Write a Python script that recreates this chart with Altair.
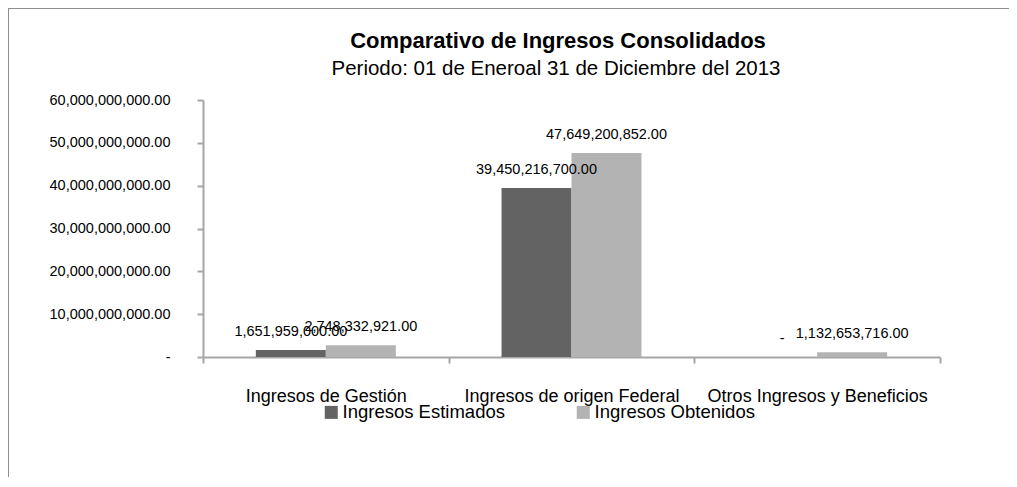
import altair as alt
import pandas as pd

categories = ["Ingresos de Gestión", "Ingresos de origen Federal", "Otros Ingresos y Beneficios"]
series = ["Ingresos Estimados", "Ingresos Obtenidos"]
estimados = [1651959000.00, 39450216700.00, 0.0]
obtenidos = [2748332921.00, 47649200852.00, 1132653716.00]
y_ticks = [0, 10e9, 20e9, 30e9, 40e9, 50e9, 60e9]
colors = ["#636363", "#b3b3b3"]
title_text = "Comparativo de Ingresos Consolidados"
subtitle_text = "Periodo: 01 de Eneroal 31 de Diciembre del 2013"

rows = []
for c, e, o in zip(categories, estimados, obtenidos):
    rows.append({"cat": c, "serie": series[0], "v": e})
    rows.append({"cat": c, "serie": series[1], "v": o})
df = pd.DataFrame(rows)

W, H = 737, 257
FONT = "Liberation Sans, Arial, sans-serif"

x_enc = alt.X("cat:N", sort=categories, title=None,
              scale=alt.Scale(paddingInner=0, paddingOuter=0),
              axis=alt.Axis(labelAngle=0, labelFontSize=18, labelFont=FONT, labelColor="#000",
                            labelLimit=400, labelPadding=24, tickBand="extent", tickSize=6,
                            tickWidth=2, tickColor="#a6a6a6", domainColor="#a6a6a6",
                            domainWidth=2, grid=False))
xo_enc = alt.XOffset("serie:N", sort=series,
                     scale=alt.Scale(paddingInner=0, paddingOuter=0.755))
y_enc = alt.Y("v:Q", title=None,
              scale=alt.Scale(domain=[0, 60e9], nice=False),
              axis=alt.Axis(values=y_ticks, grid=False,
                            labelExpr="datum.value == 0 ? '-' : format(datum.value, ',.2f')",
                            labelFontSize=14.5, labelFont=FONT, labelColor="#000",
                            labelLimit=400, labelPadding=27, tickSize=6, tickWidth=2,
                            tickColor="#a6a6a6", domainColor="#a6a6a6", domainWidth=2))

base = alt.Chart(df)

bars = base.mark_bar().encode(
    x=x_enc, xOffset=xo_enc, y=y_enc,
    color=alt.Color("serie:N", sort=series,
                    scale=alt.Scale(domain=series, range=colors),
                    legend=alt.Legend(title=None, orient="none", legendX=119, legendY=303,
                                      direction="horizontal", symbolType="square",
                                      symbolSize=169, symbolStrokeWidth=0,
                                      labelFontSize=18.5, labelFont=FONT, labelColor="#000",
                                      labelLimit=400, labelOffset=2, columnPadding=69)),
)

labels = base.transform_calculate(
    lab="datum.v == 0 ? '-' : format(datum.v, ',.2f')"
).mark_text(fontSize=14.5, font=FONT, color="#000", baseline="alphabetic", dy=-14).encode(
    x=alt.X("cat:N", sort=categories),
    xOffset=alt.XOffset("serie:N", sort=series),
    y=alt.Y("v:Q"),
    text="lab:N",
)

title_df = pd.DataFrame({"t": [title_text]})
subtitle_df = pd.DataFrame({"t": [subtitle_text]})
title_mark = alt.Chart(title_df).mark_text(
    font=FONT, fontSize=22, fontWeight="bold", color="#000", align="center", baseline="alphabetic"
).encode(x=alt.value(355), y=alt.value(-52), text="t:N")
subtitle_mark = alt.Chart(subtitle_df).mark_text(
    font=FONT, fontSize=20.5, color="#000", align="center", baseline="alphabetic"
).encode(x=alt.value(353), y=alt.value(-25), text="t:N")

frame_left = base.mark_rule(color="#8c8c8c", strokeWidth=1).encode(
    x=alt.value(-195), y=alt.value(-92), y2=alt.value(H + 140))
frame_top = base.mark_rule(color="#8c8c8c", strokeWidth=1).encode(
    x=alt.value(-195), x2=alt.value(W + 69), y=alt.value(-92))

chart = alt.layer(bars, labels, title_mark, subtitle_mark, frame_left, frame_top).properties(
    width=W, height=H,
    padding={"left": 195, "top": 92, "right": 69, "bottom": 120},
    autosize=alt.AutoSizeParams(type="none"),
    background="white",
).configure_view(stroke="transparent", strokeWidth=0)

chart.save("out.html", embed_options={"renderer": "svg", "actions": False})
